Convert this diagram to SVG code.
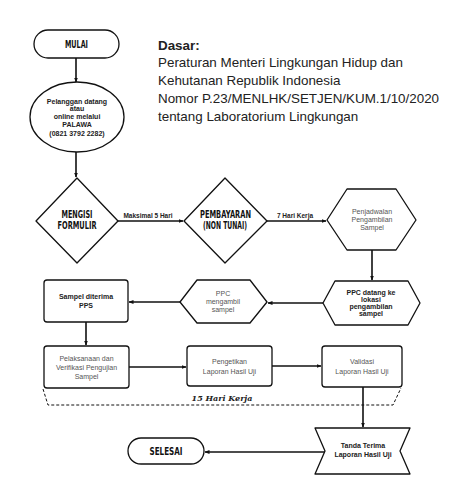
<svg xmlns="http://www.w3.org/2000/svg" width="474" height="504" viewBox="0 0 474 504">
<defs>
<marker id="ah" viewBox="0 0 10 10" refX="9" refY="5" markerWidth="5" markerHeight="5" orient="auto-start-reverse" markerUnits="userSpaceOnUse">
<path d="M0,1 L10,5 L0,9 Z" fill="#111"/>
</marker>
<style>
.sh{fill:#fff;stroke:#111;stroke-width:1.3;stroke-linejoin:round}
.ln{fill:none;stroke:#111;stroke-width:1.6}
.hd{font-family:"DejaVu Sans",sans-serif;font-weight:bold;font-size:10px;fill:#111;text-anchor:middle}
.b{font-family:"Liberation Sans",Arial,sans-serif;font-weight:bold;font-size:7px;fill:#222;text-anchor:middle}
.g{font-family:"Liberation Sans",Arial,sans-serif;font-size:7px;fill:#555;text-anchor:middle}
.lb{font-family:"Liberation Sans",Arial,sans-serif;font-weight:bold;font-size:6.5px;fill:#222}
.ds{font-family:"Liberation Sans",Arial,sans-serif;font-size:13.4px;fill:#222}
</style>
</defs>
<rect width="474" height="504" fill="#fff"/>

<g id="dasar">
<text class="ds" x="158" y="50" font-weight="bold">Dasar:</text>
<text class="ds" x="158" y="67">Peraturan Menteri Lingkungan Hidup dan</text>
<text class="ds" x="158" y="85">Kehutanan Republik Indonesia</text>
<text class="ds" x="158" y="103">Nomor P.23/MENLHK/SETJEN/KUM.1/10/2020</text>
<text class="ds" x="158" y="121">tentang Laboratorium Lingkungan</text>
</g>

<g id="connectors">
<line class="ln" x1="76" y1="58" x2="76" y2="82" marker-end="url(#ah)"/>
<line class="ln" x1="76" y1="152" x2="76" y2="177" marker-end="url(#ah)"/>
<line class="ln" x1="118" y1="221" x2="183" y2="221" marker-end="url(#ah)"/>
<line class="ln" x1="267" y1="221" x2="326" y2="221" marker-end="url(#ah)"/>
<line class="ln" x1="372" y1="250" x2="372" y2="280" marker-end="url(#ah)"/>
<line class="ln" x1="323" y1="303" x2="268" y2="303" marker-end="url(#ah)"/>
<line class="ln" x1="180" y1="302" x2="129" y2="302" marker-end="url(#ah)"/>
<line class="ln" x1="86" y1="322" x2="86" y2="345" marker-end="url(#ah)"/>
<line class="ln" x1="129" y1="367" x2="186" y2="367" marker-end="url(#ah)"/>
<line class="ln" x1="272" y1="366" x2="321" y2="366" marker-end="url(#ah)"/>
<line class="ln" x1="363" y1="387" x2="363" y2="427" marker-end="url(#ah)"/>
<line class="ln" x1="325" y1="452" x2="205" y2="452" marker-end="url(#ah)"/>
<polyline points="43,389 48,405 393,405 401,388" fill="none" stroke="#111" stroke-width="1" stroke-dasharray="3,2"/>
<text class="lb" x="148" y="218" text-anchor="middle">Maksimal 5 Hari</text>
<text class="lb" x="295" y="218" text-anchor="middle">7 Hari Kerja</text>
<text x="222" y="401" text-anchor="middle" font-family="'DejaVu Serif',serif" font-weight="bold" font-style="italic" font-size="8px" fill="#222">15 Hari Kerja</text>
</g>

<g id="mulai">
<rect class="sh" x="34" y="30" width="85" height="28" rx="14"/>
<text class="hd" x="76.5" y="48" textLength="23" lengthAdjust="spacingAndGlyphs">MULAI</text>
</g>

<g id="pelanggan">
<ellipse class="sh" cx="77" cy="117" rx="47" ry="35"/>
<text class="b" x="77" y="104">Pelanggan datang</text>
<text class="b" x="77" y="111">atau</text>
<text class="b" x="77" y="119">online melalui</text>
<text class="b" x="77" y="127">PALAWA</text>
<text class="b" x="77" y="136" font-size="8px">(0821 3792 2282)</text>
</g>

<g id="formulir">
<polygon class="sh" points="77,178 118,221 77,263 36,221"/>
<text class="hd" x="77" y="218" textLength="31" lengthAdjust="spacingAndGlyphs">MENGISI</text>
<text class="hd" x="77" y="229" textLength="39" lengthAdjust="spacingAndGlyphs">FORMULIR</text>
</g>

<g id="pembayaran">
<polygon class="sh" points="225,178 267,221 225,263 184,221"/>
<text class="hd" x="225.5" y="218" textLength="51" lengthAdjust="spacingAndGlyphs">PEMBAYARAN</text>
<text class="hd" x="225" y="229" textLength="44" lengthAdjust="spacingAndGlyphs">(NON TUNAI)</text>
</g>

<g id="penjadwalan">
<polygon class="sh" points="327,220 347,189 396,189 416,220 396,250 347,250"/>
<text class="g" x="372" y="214">Penjadwalan</text>
<text class="g" x="372" y="222">Pengambilan</text>
<text class="g" x="372" y="230">Sampel</text>
</g>

<g id="ppc-datang">
<polygon class="sh" points="323,303 335,281 408,281 420,303 408,325 335,325"/>
<text class="b" x="371" y="295" font-size="6.5px">PPC datang ke</text>
<text class="b" x="371" y="302" font-size="6.5px">lokasi</text>
<text class="b" x="371" y="309" font-size="6.5px">pengambilan</text>
<text class="b" x="371" y="316" font-size="6.5px">sampel</text>
</g>

<g id="ppc-mengambil">
<polygon class="sh" points="180,302 197,280 250,280 267,302 250,323 197,323"/>
<text class="g" x="223" y="296">PPC</text>
<text class="g" x="223" y="304">mengambil</text>
<text class="g" x="223" y="312">sampel</text>
</g>

<g id="sampel-diterima">
<rect class="sh" x="44" y="280" width="84" height="42" rx="3"/>
<text class="b" x="86" y="299" font-size="7.5px">Sampel diterima</text>
<text class="b" x="86" y="308" font-size="7.5px">PPS</text>
</g>

<g id="pelaksanaan">
<rect class="sh" x="44" y="346" width="85" height="42" rx="3"/>
<text class="g" x="86.5" y="361">Pelaksanaan dan</text>
<text class="g" x="86.5" y="370">Verifikasi Pengujian</text>
<text class="g" x="86.5" y="379">Sampel</text>
</g>

<g id="pengetikan">
<rect class="sh" x="187" y="346" width="85" height="40" rx="3"/>
<text class="g" x="229.5" y="364">Pengetikan</text>
<text class="g" x="229.5" y="374">Laporan Hasil Uji</text>
</g>

<g id="validasi">
<rect class="sh" x="322" y="346" width="80" height="41" rx="3"/>
<text class="g" x="362" y="364">Validasi</text>
<text class="g" x="362" y="374">Laporan Hasil Uji</text>
</g>

<g id="tanda-terima">
<polygon class="sh" points="315,428 410,428 400,451 410,474 315,474 325,451"/>
<text class="b" x="363" y="448">Tanda Terima</text>
<text class="b" x="363" y="457">Laporan Hasil Uji</text>
</g>

<g id="selesai">
<rect class="sh" x="128" y="438" width="76" height="26" rx="13"/>
<text class="hd" x="166" y="455" textLength="33" lengthAdjust="spacingAndGlyphs">SELESAI</text>
</g>
</svg>
